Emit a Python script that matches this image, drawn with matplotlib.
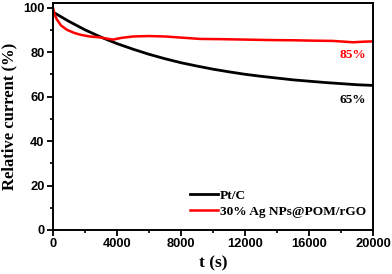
"""
Relative current vs time for Pt/C and 30% Ag NPs@POM/rGO
"""
import matplotlib
matplotlib.use("Agg")
import matplotlib.pyplot as plt
from matplotlib.ticker import MultipleLocator

# values
t_ptc = [0, 1000, 2000, 3000, 4000, 5000, 6000, 7000, 8000, 9000, 10000,
         11000, 12000, 13000, 14000, 15000, 16000, 17000, 18000, 19000, 20000]
i_ptc = [98.0, 93.8, 90.0, 86.7, 83.8, 81.3, 79.0, 77.0, 75.2, 73.7, 72.3,
         71.1, 70.0, 69.1, 68.3, 67.5, 66.9, 66.3, 65.8, 65.3, 65.0]

t_ag = [0, 100, 250, 500, 875, 1300, 1700, 2300, 2940, 3400, 3750, 4300,
        5000, 6000, 7000, 8000, 9200, 10500, 12000, 13500, 15000, 16500,
        17500, 18750, 19500, 20000]
i_ag = [100.0, 97.0, 94.6, 92.0, 90.0, 88.7, 87.8, 87.0, 86.6, 86.0, 85.6,
        86.4, 87.0, 87.2, 87.0, 86.5, 85.9, 85.8, 85.6, 85.4, 85.3, 85.1,
        85.0, 84.4, 84.7, 84.8]

x_ticks = [0, 4000, 8000, 12000, 16000, 20000]
y_ticks = [0, 20, 40, 60, 80, 100]

SERIF = "Liberation Serif"
SANS = "Liberation Sans"


def main():
    fig = plt.figure(figsize=(3.92, 2.74), dpi=100)
    ax = fig.add_axes([0.135, 0.1606, 0.817, 0.828])

    ax.plot(t_ptc, i_ptc, color="black", lw=2.0, label="Pt/C")
    ax.plot(t_ag, i_ag, color="#ff0000", lw=1.8, label="30% Ag NPs@POM/rGO")

    ax.set_xlim(0, 20000)
    ax.set_ylim(0, 102)
    ax.set_xticks(x_ticks)
    ax.set_yticks(y_ticks)
    ax.xaxis.set_minor_locator(MultipleLocator(2000))
    ax.yaxis.set_minor_locator(MultipleLocator(10))
    ax.tick_params(which="major", direction="out", length=4, width=1.3,
                   labelsize=9.3, pad=2)
    ax.tick_params(which="minor", direction="out", length=2.5, width=1.2)
    for lab in ax.get_xticklabels() + ax.get_yticklabels():
        lab.set_fontfamily(SANS)
        lab.set_fontweight("bold")
    for sp in ax.spines.values():
        sp.set_linewidth(1.4)

    ax.set_xlabel("t (s)", fontfamily=SERIF, fontweight="bold", fontsize=12.5,
                  labelpad=3.5)
    ax.set_ylabel("Relative current (%)", fontfamily=SERIF, fontweight="bold",
                  fontsize=12, labelpad=4)

    ax.text(18750, 78.6, "85%", color="#ff0000", fontfamily=SERIF,
            fontweight="bold", fontsize=9.5, ha="center", va="center")
    ax.text(18750, 58.6, "65%", color="black", fontfamily=SERIF,
            fontweight="bold", fontsize=9.5, ha="center", va="center")

    ax.legend(loc="lower left", bbox_to_anchor=(0.41, 0.03), frameon=False,
              handlelength=2.1, handletextpad=0.2, labelspacing=0.3,
              borderaxespad=0,
              prop={"family": SERIF, "weight": "bold", "size": 9.6})

    fig.savefig("out.png", dpi=100)


if __name__ == "__main__":
    main()
